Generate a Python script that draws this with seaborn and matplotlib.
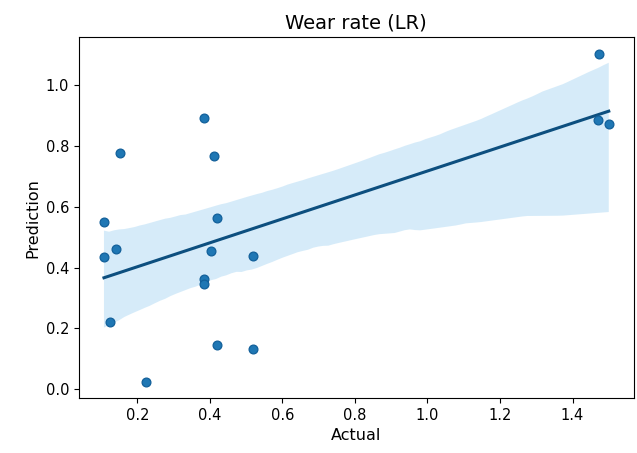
import matplotlib
matplotlib.use('Agg')
import matplotlib.pyplot as plt
import seaborn as sns
import numpy as np

# actual vs predicted wear rate (linear regression)
actual = [0.108, 0.108, 0.142, 0.151, 0.124, 0.225, 0.383, 0.411, 0.419,
          0.402, 0.383, 0.383, 0.520, 0.420, 0.520, 1.472, 1.469, 1.500]
prediction = [0.550, 0.436, 0.462, 0.778, 0.222, 0.025, 0.893, 0.767, 0.562,
              0.455, 0.361, 0.347, 0.439, 0.146, 0.131, 1.104, 0.885, 0.871]

xticks = [0.2, 0.4, 0.6, 0.8, 1.0, 1.2, 1.4]
yticks = [0.0, 0.2, 0.4, 0.6, 0.8, 1.0]

fig = plt.figure(figsize=(6.37, 4.53), dpi=100)
ax = fig.add_axes([0.1236, 0.1214, 0.8717, 0.7963])

sns.regplot(x=np.array(actual), y=np.array(prediction), ax=ax,
            color='#1f77b4', seed=42,
            scatter_kws={'s': 40, 'alpha': 1, 'edgecolor': '#12609a',
                         'linewidths': 0.9, 'zorder': 3},
            line_kws={'color': '#0d4f7f', 'linewidth': 2.2, 'zorder': 2})

# confidence band: light blue, behind the points
for coll in ax.collections[1:]:
    coll.set_facecolor('#b5dcf5')
    coll.set_alpha(0.55)
    coll.set_zorder(1)

ax.set_xticks(xticks)
ax.set_yticks(yticks)
ax.set_title('Wear rate (LR)', fontsize=14)
ax.set_xlabel('Actual', fontsize=11.5)
ax.set_ylabel('Prediction', fontsize=11.5)
ax.tick_params(labelsize=10.5)

plt.savefig('out.png', dpi=100)
plt.close()
